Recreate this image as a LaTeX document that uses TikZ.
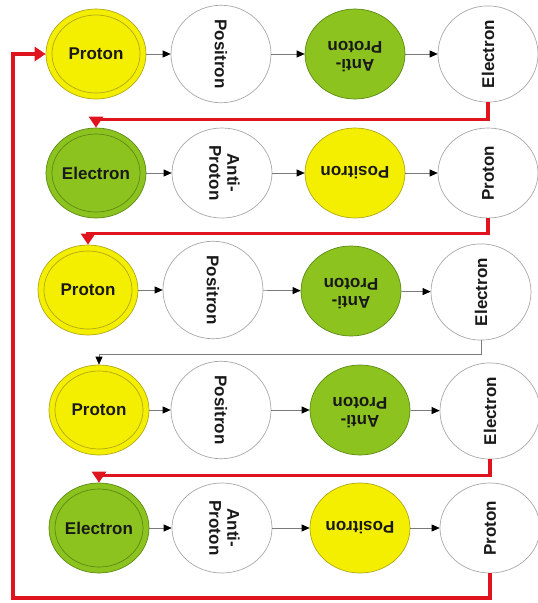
\documentclass[tikz,border=0pt]{standalone}
\usepackage{fontspec}
\setmainfont{Liberation Sans}
\usetikzlibrary{shapes.geometric,arrows.meta}

\definecolor{pyellow}{HTML}{F4EF00}
\definecolor{pyellowline}{HTML}{B0A818}
\definecolor{pgreen}{HTML}{8DC31F}
\definecolor{pgreenline}{HTML}{5C8A14}
\definecolor{ringgray}{HTML}{A8A8A8}
\definecolor{linkgray}{HTML}{7A7A7A}
\definecolor{loopred}{HTML}{E0141E}

% label helpers: turned single- and two-line labels
\newcommand{\turnlabel}[2]{\rotatebox{#1}{#2}}
\newcommand{\turnpair}[3]{\rotatebox{#1}{\begin{tabular}{@{}c@{}}#2\\#3\end{tabular}}}

\begin{document}
\begin{tikzpicture}[x=1pt,y=-1pt,
  particle/.style={ellipse, minimum width=100pt, minimum height=90pt, inner sep=0pt,
    font=\fontsize{17}{18}\selectfont\bfseries, text=black!90, line width=0.7pt},
  plain/.style={particle, draw=ringgray, fill=white},
  yel/.style={particle, draw=pyellowline, fill=pyellow},
  grn/.style={particle, draw=pgreenline, fill=pgreen},
  yelring/.style={yel, path picture={\draw[pyellowline, line width=0.7pt]
    (path picture bounding box.center) ellipse [x radius=44pt, y radius=39pt];}},
  grnring/.style={grn, path picture={\draw[pgreenline, line width=0.7pt]
    (path picture bounding box.center) ellipse [x radius=44pt, y radius=39pt];}},
  link/.style={draw=linkgray, line width=0.7pt, -{Triangle[length=8pt,width=7pt,color=black]}},
  loopline/.style={draw=loopred, line width=3.2pt, -{Triangle[length=11pt,width=14pt]}}
]
\useasboundingbox (0,0) rectangle (538,603);

% row 1
\node[yelring] (r1c1) at (96,54)  {Proton};
\node[plain]   (r1c2) at (221,54) {\turnlabel{-90}{Positron}};
\node[grn]     (r1c3) at (355,54) {\turnpair{180}{Anti-}{Proton}};
\node[plain]   (r1c4) at (488,54) {\turnlabel{90}{Electron}};

% row 2
\node[grnring] (r2c1) at (96,173)  {Electron};
\node[plain]   (r2c2) at (222,173) {\turnpair{-90}{Anti-}{Proton}};
\node[yel]     (r2c3) at (355,173) {\turnlabel{180}{Positron}};
\node[plain]   (r2c4) at (488,173) {\turnlabel{90}{Proton}};

% row 3
\node[yelring] (r3c1) at (88,290)  {Proton};
\node[plain]   (r3c2) at (213,290) {\turnlabel{-90}{Positron}};
\node[grn]     (r3c3) at (351,291) {\turnpair{180}{Anti-}{Proton}};
\node[plain]   (r3c4) at (481,292) {\turnlabel{90}{Electron}};

% row 4
\node[yelring] (r4c1) at (99,410)  {Proton};
\node[plain]   (r4c2) at (221,410) {\turnlabel{-90}{Positron}};
\node[grn]     (r4c3) at (360,410) {\turnpair{180}{Anti-}{Proton}};
\node[plain]   (r4c4) at (490,411) {\turnlabel{90}{Electron}};

% row 5
\node[grnring] (r5c1) at (99,528)  {Electron};
\node[plain]   (r5c2) at (222,528) {\turnpair{-90}{Anti-}{Proton}};
\node[yel]     (r5c3) at (360,528) {\turnlabel{180}{Positron}};
\node[plain]   (r5c4) at (490,528) {\turnlabel{90}{Proton}};

% links inside each row
\foreach \r in {1,...,5}{
  \draw[link] (r\r c1) -- (r\r c2);
  \draw[link] (r\r c2) -- (r\r c3);
  \draw[link] (r\r c3) -- (r\r c4);
}

% links from one row to the next
\draw[loopline] (r1c4.south) -- ++(0,17) -| (r2c1.north);
\draw[loopline] (r2c4.south) -- ++(0,15) -| (r3c1.north);
\draw[link]     (r3c4.south) -- ++(0,14) -| (r4c1.north);
\draw[loopline] (r4c4.south) -- ++(0,16) -| (r5c1.north);

% return path round the left side
\coordinate (loopL) at (13,598);
\draw[loopline] (r5c4.south) |- (loopL) |- (r1c1.west);
\end{tikzpicture}
\end{document}
